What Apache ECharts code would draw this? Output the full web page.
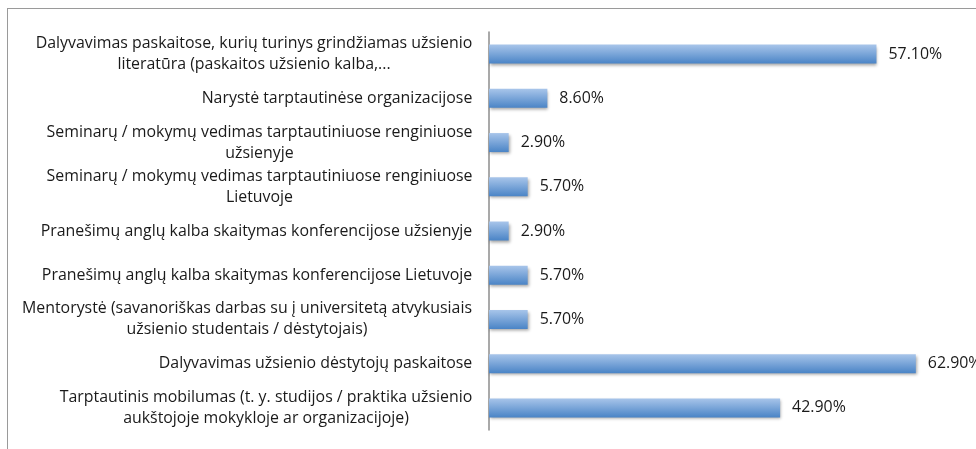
<!DOCTYPE html>
<html>
<head>
<meta charset="utf-8">
<script src="https://cdn.jsdelivr.net/npm/echarts@6/dist/echarts.min.js"></script>
<style>
  body { margin: 0; background: #fff; }
  #frame { position: absolute; left: 7px; top: 8px; width: 1200px; height: 800px; border: 1px solid #9a9a9a; }
  #chart { position: absolute; left: 0; top: 0; width: 976px; height: 449px; }
</style>
</head>
<body>
<div id="frame"></div>
<div id="chart"></div>
<script>
// kategorijos (iš viršaus į apačią)
const categories = [
  'Dalyvavimas paskaitose, kurių turinys grindžiamas užsienio\nliteratūra (paskaitos užsienio kalba,...',
  'Narystė tarptautinėse organizacijose',
  'Seminarų / mokymų vedimas tarptautiniuose renginiuose\nužsienyje',
  'Seminarų / mokymų vedimas tarptautiniuose renginiuose\nLietuvoje',
  'Pranešimų anglų kalba skaitymas konferencijose užsienyje',
  'Pranešimų anglų kalba skaitymas konferencijose Lietuvoje',
  'Mentorystė (savanoriškas darbas su į universitetą atvykusiais\nužsienio studentais / dėstytojais)',
  'Dalyvavimas užsienio dėstytojų paskaitose',
  'Tarptautinis mobilumas (t. y. studijos / praktika užsienio\naukštojoje mokykloje ar organizacijoje)'
]
const values = [57.1, 8.6, 2.9, 5.7, 2.9, 5.7, 5.7, 62.9, 42.9]

const labelFont = 'Open Sans'
const labelSize = 15.9

// eilučių plotis, kad kelių eilučių pavadinimai būtų centruoti
const ctx = document.createElement('canvas').getContext('2d')
ctx.font = labelSize + 'px ' + labelFont
const rich = {}
categories.forEach(function (c, i) {
  const w = Math.max.apply(null, c.split('\n').map(function (l) { return ctx.measureText(l).width }))
  rich['c' + i] = { width: Math.ceil(w) + 1, align: 'center', fontFamily: labelFont, fontSize: labelSize, color: '#1a1a1a', lineHeight: 21 }
})

const myChart = echarts.init(document.getElementById('chart'))
const option = {
  animation: false,
  grid: { left: 489, right: 12, top: 32, bottom: 19, containLabel: false },
  xAxis: {
    type: 'value',
    min: 0,
    max: 70,
    show: false,
    splitLine: { show: false }
  },
  yAxis: {
    type: 'category',
    inverse: true,
    data: categories,
    axisTick: { show: false },
    axisLine: { lineStyle: { color: '#8c8c8c', width: 1.5 } },
    axisLabel: {
      margin: 16,
      interval: 0,
      align: 'right',
      rich: rich,
      formatter: function (value, index) {
        return value.split('\n').map(function (l) { return '{c' + index + '|' + l + '}' }).join('\n')
      }
    }
  },
  series: [{
    type: 'bar',
    data: values,
    barWidth: 19,
    itemStyle: {
      color: new echarts.graphic.LinearGradient(0, 0, 0, 1, [
        { offset: 0, color: '#a8c5ea' },
        { offset: 1, color: '#4a84c6' }
      ]),
      shadowColor: 'rgba(0,0,0,0.35)',
      shadowBlur: 3,
      shadowOffsetX: 1,
      shadowOffsetY: 2
    },
    label: {
      show: true,
      position: 'right',
      distance: 12,
      fontFamily: labelFont,
      fontSize: labelSize,
      color: '#1a1a1a',
      formatter: function (p) { return p.value.toFixed(2) + '%' }
    }
  }]
}
myChart.setOption(option)
window.onresize = function () {
  myChart.resize()
}
</script>
</body>
</html>
